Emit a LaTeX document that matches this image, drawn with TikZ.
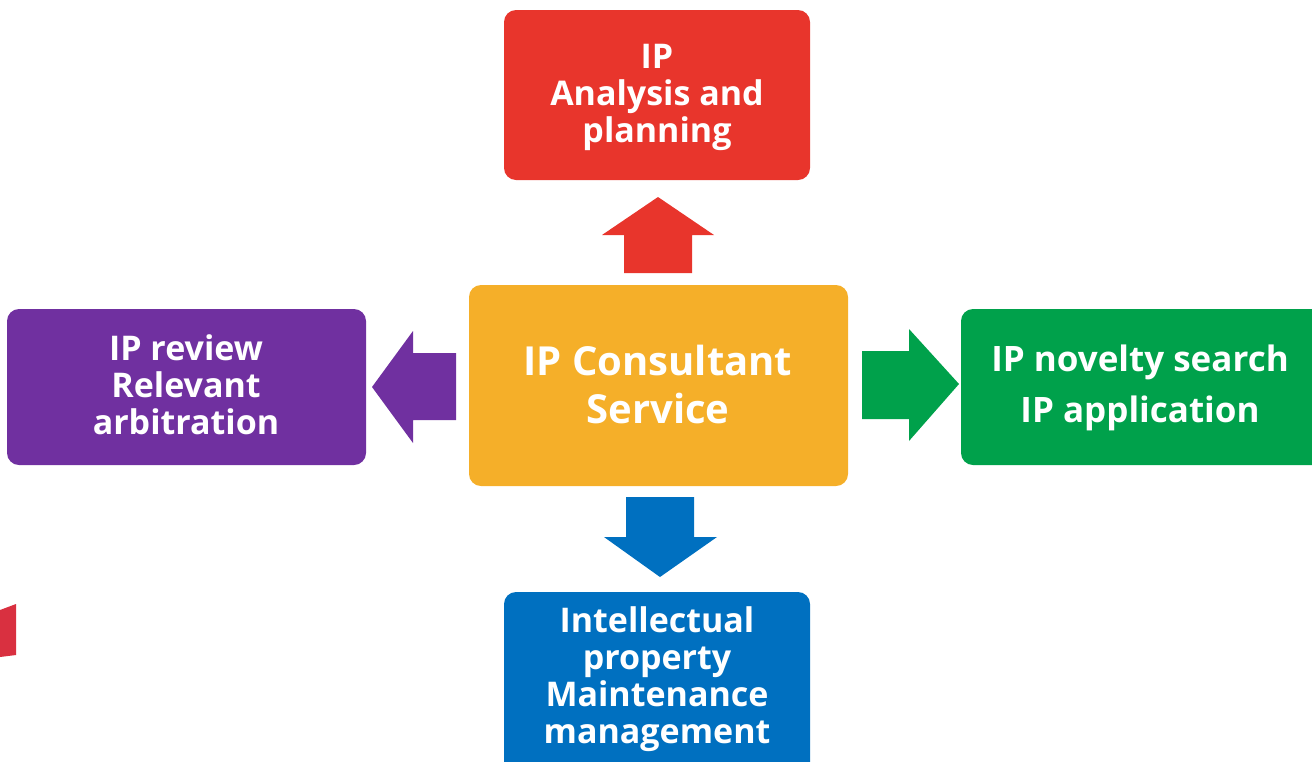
\documentclass[tikz,border=0pt]{standalone}
\usepackage{fontspec}
\setmainfont{Open Sans}
\definecolor{cred}{HTML}{E8352C}
\definecolor{corange}{HTML}{F5AF29}
\definecolor{cpurple}{HTML}{7030A0}
\definecolor{cgreen}{HTML}{00A14B}
\definecolor{cblue}{HTML}{0070C0}
\definecolor{cfrag}{HTML}{D93040}
\begin{document}
\begin{tikzpicture}[x=1pt,y=-1pt,
  box/.style={rounded corners=12pt,inner sep=0pt,text=white,align=center,
    font=\fontsize{34}{37}\selectfont\bfseries},
]
\useasboundingbox (0,0) rectangle (1312,761);
\begin{scope}
\clip (0,0) rectangle (1312,761);
% boxes
\fill[cred,rounded corners=12pt] (504,10) rectangle (810,180);
\node[box] (top) at (657,97) {IP\\Analysis and\\planning};
\fill[corange,rounded corners=12pt] (469,285) rectangle (848,486);
\node[box,font=\fontsize{40}{48}\selectfont\bfseries] (center) at (658,384) {IP Consultant\\Service};
\fill[cpurple,rounded corners=12pt] (7,309) rectangle (366,465);
\node[box] (left) at (186,385) {IP review\\Relevant\\arbitration};
\fill[cgreen,rounded corners=12pt] (961,309) rectangle (1330,465);
\node[box,font=\fontsize{35}{51}\selectfont\bfseries] (right) at (1140,388) {IP novelty search\\IP application};
\fill[cblue,rounded corners=12pt] (504,592) rectangle (810,790);
\node[box] (bottom) at (657,679) {Intellectual\\property\\Maintenance\\management};
% arrows
\fill[cred] (658,197) -- (714,235) -- (692,235) -- (692,273) -- (624,273) -- (624,235) -- (602,235) -- cycle;
\fill[cblue] (660,577) -- (717,537) -- (694,537) -- (694,497) -- (626,497) -- (626,537) -- (604,537) -- cycle;
\fill[cpurple] (372,387) -- (413,331) -- (413,353) -- (456,353) -- (456,420) -- (413,420) -- (413,443) -- cycle;
\fill[cgreen] (959,384) -- (909,329) -- (909,351) -- (862,351) -- (862,419) -- (909,419) -- (909,441) -- cycle;
% fragment
\fill[cfrag] (0,610) -- (16,604) -- (16,655) -- (0,657) -- cycle;
\end{scope}
\end{tikzpicture}
\end{document}
